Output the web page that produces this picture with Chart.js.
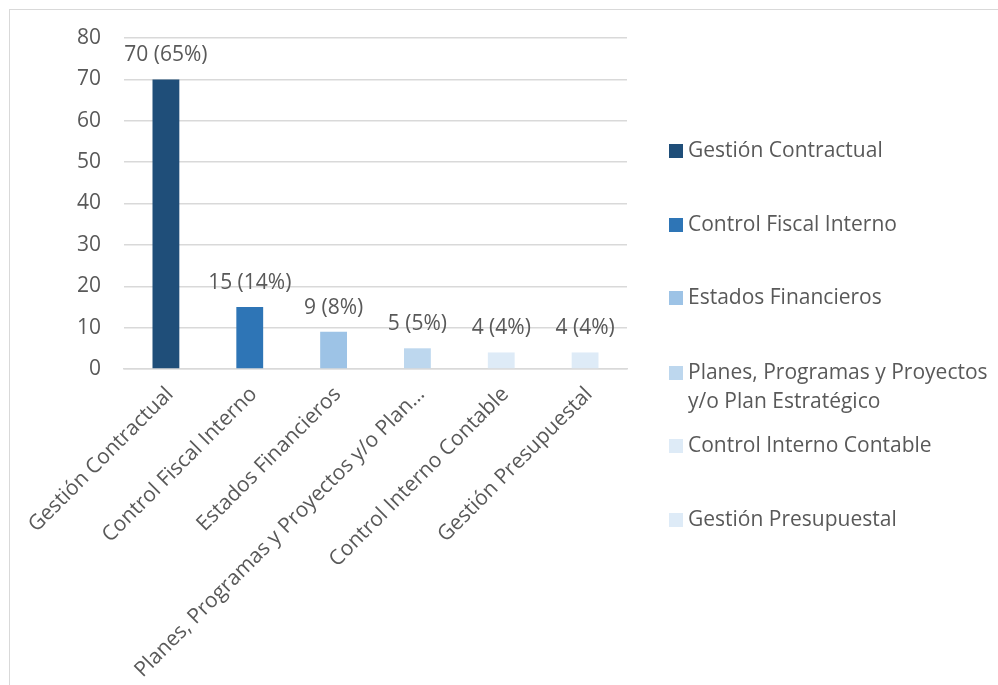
<!DOCTYPE html>
<html>
<head>
<meta charset="utf-8">
<script src="https://cdn.jsdelivr.net/npm/chart.js@4/dist/chart.umd.min.js"></script>
<style>
html,body{margin:0;padding:0;background:#fff;}
#wrap{position:relative;width:998px;height:685px;}
</style>
</head>
<body>
<div id="wrap"><canvas id="c" width="998" height="685"></canvas></div>
<script>
const categories = ["Gestión Contractual","Control Fiscal Interno","Estados Financieros","Planes, Programas y Proyectos y/o Plan Estratégico","Control Interno Contable","Gestión Presupuestal"];
const axisLabels = ["Gestión Contractual","Control Fiscal Interno","Estados Financieros","Planes, Programas y Proyectos y/o Plan…","Control Interno Contable","Gestión Presupuestal"];
const legendLines = [["Gestión Contractual"],["Control Fiscal Interno"],["Estados Financieros"],["Planes, Programas y Proyectos","y/o Plan Estratégico"],["Control Interno Contable"],["Gestión Presupuestal"]];
const values = [70,15,9,5,4,4];
const percents = [65,14,8,5,4,4];
const colors = ["#1F4E79","#2E75B6","#9DC3E6","#BDD7EE","#DEEBF7","#DEEBF7"];
const yTicks = {min:0,max:80,step:10};

const FONT = "'Open Sans', 'DejaVu Sans', sans-serif";
const TXT = "#595959";

const borderPlugin = {
  id:'frame',
  beforeDraw(chart){
    const ctx = chart.ctx;
    ctx.save();
    ctx.fillStyle = '#fff';
    ctx.fillRect(0,0,chart.width,chart.height);
    ctx.strokeStyle = '#D9D9D9';
    ctx.lineWidth = 1;
    ctx.strokeRect(9.5,9.5,chart.width+20,chart.height+20);
    ctx.restore();
  }
};

const labelPlugin = {
  id:'barLabels',
  afterDatasetsDraw(chart){
    const ctx = chart.ctx;
    const meta = chart.getDatasetMeta(0);
    ctx.save();
    ctx.font = "21px " + FONT;
    ctx.fillStyle = TXT;
    ctx.textAlign = 'center';
    ctx.textBaseline = 'middle';
    meta.data.forEach((bar,i)=>{
      ctx.fillText(values[i] + " (" + percents[i] + "%)", bar.x, bar.y - 24);
    });
    ctx.restore();
  }
};

const legendPlugin = {
  id:'customLegend',
  afterDraw(chart){
    const ctx = chart.ctx;
    const x0 = 669, tx = 688;
    const ys = [151,225,298,373,446,520];
    ctx.save();
    ctx.font = "21px " + FONT;
    ctx.textBaseline = 'middle';
    ctx.textAlign = 'left';
    legendLines.forEach((lines,i)=>{
      const y = ys[i];
      ctx.fillStyle = colors[i];
      ctx.fillRect(x0, y-7, 14, 14);
      ctx.fillStyle = TXT;
      lines.forEach((ln,j)=>ctx.fillText(ln, tx, y + j*29));
    });
    ctx.restore();
  }
};

new Chart(document.getElementById('c'), {
  type:'bar',
  data:{
    labels: axisLabels,
    datasets:[{
      label:'Observaciones',
      data: values,
      backgroundColor: colors,
      borderWidth:0,
      categoryPercentage:1,
      barPercentage:0.32
    }]
  },
  options:{
    responsive:false,
    animation:false,
    devicePixelRatio:1,
    layout:{padding:{top:38,right:371,left:0,bottom:0}},
    plugins:{legend:{display:false},tooltip:{enabled:false}},
    scales:{
      y:{
        min:yTicks.min,max:yTicks.max,
        ticks:{stepSize:yTicks.step,color:TXT,font:{family:FONT,size:21},padding:23},
        grid:{color:'#D9D9D9',lineWidth:1.5,drawTicks:false},
        border:{display:false},
        afterFit(s){ s.width = 124; }
      },
      x:{
        ticks:{color:TXT,font:{family:FONT,size:21},minRotation:45,maxRotation:45,autoSkip:false,padding:13,labelOffset:4},
        grid:{display:false,drawTicks:false},
        border:{display:true,color:'#D9D9D9',width:1.5},
        afterFit(s){ s.height = 316; }
      }
    }
  },
  plugins:[borderPlugin,labelPlugin,legendPlugin]
});
</script>
</body>
</html>
